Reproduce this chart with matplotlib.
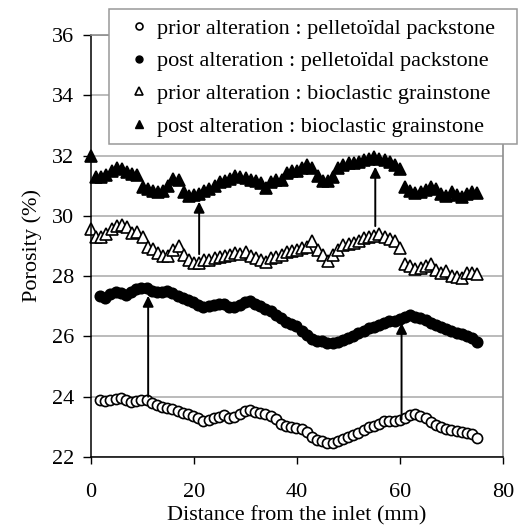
import numpy as np
import matplotlib
matplotlib.use("Agg")
import matplotlib.pyplot as plt
from matplotlib.lines import Line2D
from matplotlib.patches import Rectangle

plt.rcParams['font.family'] = ['Liberation Serif', 'DejaVu Serif']

# distance from the inlet (mm)
dist_circles = np.linspace(1.75, 75, 74)
dist_triangles = np.arange(0, 76)

prior_packstone = [23.90, 23.86, 23.88, 23.92, 23.95, 23.88, 23.82, 23.86, 23.88, 23.90,
                   23.80, 23.72, 23.67, 23.64, 23.60, 23.52, 23.46, 23.41, 23.37, 23.30,
                   23.20, 23.23, 23.30, 23.33, 23.38, 23.30, 23.33, 23.42, 23.52, 23.55,
                   23.50, 23.47, 23.43, 23.37, 23.25, 23.10, 23.02, 22.98, 22.96, 22.92,
                   22.82, 22.68, 22.58, 22.52, 22.47, 22.48, 22.54, 22.60, 22.66, 22.74,
                   22.80, 22.88, 22.98, 23.02, 23.10, 23.18, 23.19, 23.20, 23.24, 23.30,
                   23.38, 23.44, 23.36, 23.28, 23.16, 23.06, 22.98, 22.92, 22.88, 22.85,
                   22.82, 22.79, 22.75, 22.62]

post_packstone = [27.33, 27.27, 27.40, 27.48, 27.45, 27.36, 27.48, 27.56, 27.62, 27.62,
                  27.52, 27.47, 27.49, 27.50, 27.44, 27.34, 27.27, 27.21, 27.14, 27.05,
                  26.98, 27.01, 27.03, 27.07, 27.06, 26.98, 26.98, 27.03, 27.14, 27.18,
                  27.09, 27.00, 26.92, 26.84, 26.72, 26.61, 26.49, 26.42, 26.36, 26.18,
                  26.04, 25.93, 25.86, 25.85, 25.77, 25.78, 25.83, 25.89, 25.96, 26.02,
                  26.10, 26.19, 26.27, 26.31, 26.38, 26.46, 26.50, 26.52, 26.57, 26.64,
                  26.71, 26.66, 26.61, 26.54, 26.45, 26.38, 26.32, 26.25, 26.18, 26.11,
                  26.08, 26.03, 25.96, 25.80]

prior_grainstone = [29.55, 29.31, 29.29, 29.40, 29.55, 29.66, 29.70, 29.62, 29.42, 29.47,
                    29.31, 28.96, 28.90, 28.77, 28.66, 28.66, 28.88, 28.99, 28.71, 28.52,
                    28.43, 28.45, 28.52, 28.54, 28.60, 28.63, 28.67, 28.71, 28.77, 28.74,
                    28.79, 28.66, 28.60, 28.52, 28.46, 28.60, 28.63, 28.71, 28.80, 28.84,
                    28.88, 28.93, 28.96, 29.15, 28.88, 28.71, 28.49, 28.71, 28.88, 29.04,
                    29.07, 29.10, 29.15, 29.26, 29.29, 29.33, 29.40, 29.29, 29.22, 29.15,
                    28.93, 28.41, 28.32, 28.23, 28.27, 28.35, 28.41, 28.21, 28.12, 28.16,
                    27.99, 27.97, 27.94, 28.10, 28.10, 28.08]

post_grainstone = [32.00, 31.30, 31.30, 31.37, 31.48, 31.58, 31.54, 31.46, 31.40, 31.34,
                   30.95, 30.90, 30.82, 30.78, 30.82, 30.98, 31.22, 31.20, 30.80, 30.66,
                   30.68, 30.74, 30.82, 30.90, 30.98, 31.12, 31.14, 31.22, 31.32, 31.30,
                   31.25, 31.20, 31.14, 31.08, 30.92, 31.12, 31.20, 31.18, 31.42, 31.48,
                   31.50, 31.58, 31.68, 31.60, 31.33, 31.14, 31.16, 31.30, 31.58, 31.70,
                   31.74, 31.76, 31.80, 31.85, 31.88, 31.95, 31.88, 31.85, 31.78, 31.70,
                   31.55, 30.95, 30.82, 30.76, 30.80, 30.86, 30.96, 30.90, 30.74, 30.66,
                   30.78, 30.70, 30.63, 30.74, 30.80, 30.76]

labels = ["prior alteration : pelletoïdal packstone",
          "post alteration : pelletoïdal packstone",
          "prior alteration : bioclastic grainstone",
          "post alteration : bioclastic grainstone"]

# arrows prior -> post
arrow_x = [11.1, 21.0, 55.2, 60.3]
arrow_from = [24.0, 28.73, 29.66, 23.25]
arrow_to = [27.35, 30.47, 31.63, 26.45]

W, H = 518, 526
fig = plt.figure(figsize=(W / 100, H / 100), dpi=100)
ax = fig.add_axes([91/W, 1 - 457/H, 412/W, 422/H])

grid_col = "#a8a8a8"
ax.set_xlim(0, 80)
ax.set_ylim(22, 36)
ax.set_xticks([0, 20, 40, 60, 80])
ax.set_yticks(np.arange(22, 37, 2))
ax.yaxis.grid(True, color=grid_col, lw=1.1)
ax.set_axisbelow(True)
for s in ["top", "right"]:
    ax.spines[s].set_color("#8c8c8c")
    ax.spines[s].set_linewidth(1.2)
for s in ["left", "bottom"]:
    ax.spines[s].set_color("black")
    ax.spines[s].set_linewidth(1.1)
ax.tick_params(axis="y", direction="out", length=6, width=1, pad=6, labelsize=16)
ax.tick_params(axis="x", direction="out", length=5, width=1, pad=14, labelsize=16)

ax.plot(dist_circles, prior_packstone, ls="none", marker="o", ms=7.3,
        mfc="white", mec="black", mew=1.2, clip_on=False)
ax.plot(dist_circles, post_packstone, ls="none", marker="o", ms=7.5,
        mfc="black", mec="black", mew=1.2, clip_on=False)
ax.plot(dist_triangles, prior_grainstone, ls="none", marker="^", ms=8.2,
        mfc="white", mec="black", mew=1.2, clip_on=False)
ax.plot(dist_triangles, post_grainstone, ls="none", marker="^", ms=8.2,
        mfc="black", mec="black", mew=1.2, clip_on=False)

for x, y0, y1 in zip(arrow_x, arrow_from, arrow_to):
    ax.annotate("", xy=(x, y1), xytext=(x, y0),
                arrowprops=dict(arrowstyle="-|>", mutation_scale=16, lw=1.4,
                                color="black", shrinkA=0, shrinkB=0))

ax.set_xlabel("Distance from the inlet (mm)", fontsize=16, labelpad=3)
ax.set_ylabel("Porosity (%)", fontsize=16, labelpad=7)

# legend box (Excel style, sticks out of the plot area)
box = Rectangle((109/W, 1 - 144/H), 408/W, 135/H, transform=fig.transFigure,
                facecolor="white", edgecolor="#999999", lw=1.1, zorder=4)
fig.add_artist(box)

handles = [
    Line2D([], [], ls="none", marker="o", ms=5, mfc="white", mec="black", mew=1.2),
    Line2D([], [], ls="none", marker="o", ms=5, mfc="black", mec="black"),
    Line2D([], [], ls="none", marker="^", ms=5.5, mfc="white", mec="black", mew=1.2),
    Line2D([], [], ls="none", marker="^", ms=5.5, mfc="black", mec="black"),
]
leg = fig.legend(handles, labels, loc="upper left",
                 bbox_to_anchor=(131/W, 1 - 18/H), bbox_transform=fig.transFigure,
                 fontsize=16, frameon=False, handlelength=0.7, handletextpad=0.45,
                 labelspacing=0.55, borderpad=0, borderaxespad=0)
leg.set_zorder(5)

fig.savefig("out.png", dpi=100)
